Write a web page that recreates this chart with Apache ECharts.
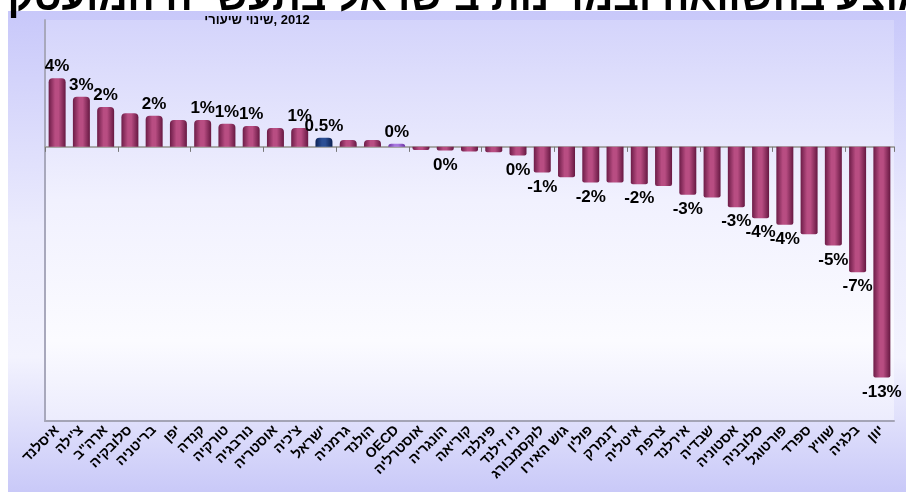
<!DOCTYPE html>
<html><head><meta charset="utf-8">
<script src="https://cdn.jsdelivr.net/npm/echarts@6/dist/echarts.min.js"></script>
<style>html,body{margin:0;padding:0;background:#fff}#c{width:906px;height:492px}</style>
</head><body><div id="c"></div>
<script>
const categories = ['איסלנד',"צ'ילה",'ארה"ב','סלובקיה','בריטניה','יפן','קנדה','טורקיה','נורבגיה','אוסטריה',"צ'כיה",'ישראל','גרמניה','הולנד','OECD','אוסטרליה','הונגריה','קוריאה','פינלנד','ניו זילנד','לוקסמבורג','גוש האירו','פולין','דנמרק','איטליה','צרפת','אירלנד','שבדיה','אסטוניה','סלובניה','פורטוגל','ספרד','שוויץ','בלגיה','יוון'];
const values = [3.87, 2.83, 2.24, 1.90, 1.75, 1.52, 1.52, 1.30, 1.18, 1.07, 1.07, 0.52, 0.39, 0.39, 0.17, -0.17, -0.21, -0.26, -0.30, -0.49, -1.45, -1.71, -2.01, -2.01, -2.10, -2.20, -2.70, -2.86, -3.40, -4.02, -4.39, -4.92, -5.56, -7.06, -13.0];
const valueLabels = ['4%','3%','2%','','2%','','1%','1%','1%','','1%','0.5%','','','0%','','0%','','','0%','-1%','','-2%','','-2%','','-3%','','-3%','-4%','-4%','','-5%','-7%','-13%'];
const titleWords = ['התפתחות', 'המועסקים', 'בתעשייה', 'בישראל', 'ובמדינות', 'בהשוואה', 'לממוצע', '-', 'OECD'];
const subtitleWords = ['שיעורי', 'שינוי,', '2012'];

const chart = echarts.init(document.getElementById('c'), null, {renderer: 'canvas'});
const LG = echarts.graphic.LinearGradient;
const hgrad = (a, b, c) => new LG(0, 0, 1, 0, [
  {offset: 0, color: a}, {offset: 0.38, color: b}, {offset: 0.58, color: b}, {offset: 1, color: c}
]);
const maroon = hgrad('#6c1c47', '#b84d82', '#661842');
const navy = hgrad('#0c2255', '#2c4f95', '#0a1f50');
const purple = hgrad('#6a2fa0', '#a878e0', '#6a2fa0');
const special = {'ישראל': navy, 'OECD': purple};

const data = values.map((v, i) => ({
  value: v,
  itemStyle: {color: special[categories[i]] || maroon, borderRadius: v >= 0 ? [4, 4, 0, 0] : [0, 0, 2, 2]},
  label: {position: v >= 0 ? 'top' : 'bottom', distance: v >= 0 ? 3 : 6}
}));

// words laid out left to right, as in the reference
const ltrJoin = words => words.join('\u200E \u200E');

const option = {
  animation: false,
  backgroundColor: '#ffffff',
  graphic: [
    {type: 'rect', z: -10, silent: true, shape: {x: 8, y: 11, width: 898, height: 481},
     style: {fill: new LG(0, 0, 0, 1, [
       {offset: 0, color: '#c8c8fa'}, {offset: 0.45, color: '#ebebfd'},
       {offset: 0.72, color: '#f3f3fe'}, {offset: 1, color: '#c9c9f8'}])}},
    {type: 'text', z: 10, x: 453, y: 19, silent: true,
     style: {text: ltrJoin(titleWords), font: 'bold 40px "Liberation Sans"', fill: '#000', align: 'center', verticalAlign: 'bottom'}},
    {type: 'text', z: 10, x: 257, y: 20, silent: true,
     style: {text: ltrJoin(subtitleWords), font: 'bold 13px "Liberation Sans"', fill: '#000', align: 'center', verticalAlign: 'middle'}}
  ],
  grid: {left: 45, right: 12, top: 20, bottom: 71, show: true, borderWidth: 0,
    backgroundColor: new LG(0, 0, 0, 1, [
      {offset: 0, color: '#d4d4fb'}, {offset: 0.45, color: '#f1f1fe'},
      {offset: 0.8, color: '#fbfbff'}, {offset: 1, color: '#ececfd'}])},
  xAxis: [
    {type: 'category', data: categories, position: 'bottom',
     axisLine: {onZero: true, lineStyle: {color: '#a8a8a8', width: 2}},
     axisTick: {show: true, length: 5, lineStyle: {color: '#777', width: 1}},
     axisLabel: {show: false}, splitLine: {show: false}},
    {type: 'category', data: categories, position: 'bottom',
     axisLine: {onZero: false, lineStyle: {color: '#a4a4b6', width: 2}},
     axisTick: {show: false},
     axisLabel: {interval: 0, rotate: 45, margin: 7, fontSize: 14, fontWeight: 'bold', color: '#000', fontFamily: 'Liberation Sans'}}
  ],
  yAxis: {type: 'value', min: -15.45, max: 7.15,
    axisLine: {show: true, onZero: false, lineStyle: {color: '#a8a8bc', width: 2}},
    axisTick: {show: false}, axisLabel: {show: false}, splitLine: {show: false}},
  series: [{
    type: 'bar', xAxisIndex: 0, data: data, barWidth: '70%',
    label: {show: true, formatter: p => valueLabels[p.dataIndex], fontSize: 17, fontWeight: 'bold',
            color: '#000', fontFamily: 'Liberation Sans'}
  }]
};
chart.setOption(option);
</script></body></html>
